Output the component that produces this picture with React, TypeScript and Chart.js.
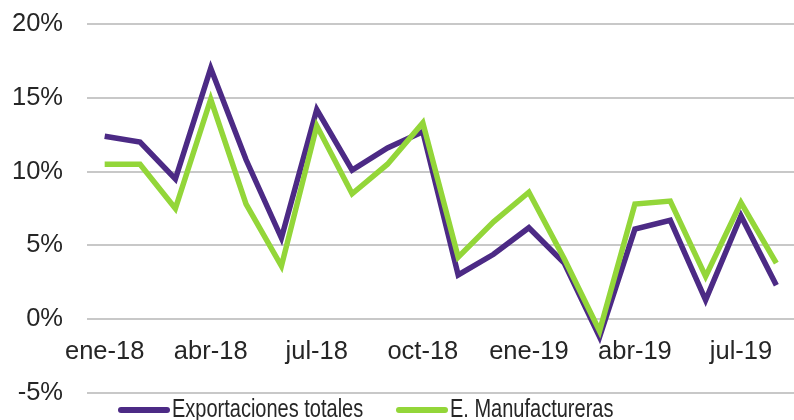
import React, { useEffect, useRef } from "react";
import { Chart, registerables } from "chart.js";

Chart.register(...registerables);

const categories = [
  "ene-18", "feb-18", "mar-18", "abr-18", "may-18", "jun-18", "jul-18", "ago-18", "sep-18", "oct-18",
  "nov-18", "dic-18", "ene-19", "feb-19", "mar-19", "abr-19", "may-19", "jun-19", "jul-19", "ago-19",
];

const exportacionesTotales = [
  12.4, 12.0, 9.5, 17.0, 10.8, 5.5, 14.2, 10.1, 11.6, 12.7,
  3.0, 4.4, 6.2, 3.8, -1.2, 6.1, 6.7, 1.3, 7.0, 2.3,
];

const manufactureras = [
  10.5, 10.5, 7.5, 14.9, 7.8, 3.6, 13.1, 8.5, 10.5, 13.3,
  4.2, 6.6, 8.6, 4.1, -0.8, 7.8, 8.0, 2.9, 7.9, 3.8,
];

const yTicks = [-5, 0, 5, 10, 15, 20];

const seriesNames = ["Exportaciones totales", "E. Manufactureras"];
const PURPLE = "#4C2A85";
const GREEN = "#93D639";
const FONT = "'Liberation Sans', Arial, sans-serif";

const legendPlugin = {
  id: "customLegend",
  afterDraw(chart: any) {
    const ctx = chart.ctx;
    const items = [
      { label: seriesNames[0], color: PURPLE, x: 121 },
      { label: seriesNames[1], color: GREEN, x: 399 },
    ];
    ctx.save();
    items.forEach((it) => {
      ctx.beginPath();
      ctx.strokeStyle = it.color;
      ctx.lineWidth = 6;
      ctx.lineCap = "round";
      ctx.moveTo(it.x, 410);
      ctx.lineTo(it.x + 46, 410);
      ctx.stroke();
      ctx.save();
      ctx.translate(it.x + 51, 417);
      ctx.scale(0.8, 1);
      ctx.fillStyle = "#262626";
      ctx.font = `25px ${FONT}`;
      ctx.textBaseline = "alphabetic";
      ctx.textAlign = "left";
      ctx.fillText(it.label, 0, 0);
      ctx.restore();
    });
    ctx.restore();
  },
};

export default function App() {
  const ref = useRef<HTMLCanvasElement>(null);

  useEffect(() => {
    if (!ref.current) return;
    const chart = new Chart(ref.current, {
      type: "line",
      data: {
        labels: categories,
        datasets: [
          {
            label: seriesNames[0],
            data: exportacionesTotales,
            borderColor: PURPLE,
            backgroundColor: PURPLE,
            borderWidth: 5.5,
            pointRadius: 0,
            tension: 0,
            order: 2,
          },
          {
            label: seriesNames[1],
            data: manufactureras,
            borderColor: GREEN,
            backgroundColor: GREEN,
            borderWidth: 5.5,
            pointRadius: 0,
            tension: 0,
            order: 1,
          },
        ],
      },
      options: {
        animation: false,
        responsive: false,
        layout: { padding: { left: 0, right: 0, top: 24, bottom: 27 } },
        plugins: {
          legend: { display: false },
          tooltip: { enabled: false },
        },
        scales: {
          x: {
            type: "category",
            position: { y: 0 } as any,
            offset: true,
            grid: { display: false, drawTicks: false },
            border: { display: false },
            ticks: {
              autoSkip: false,
              maxRotation: 0,
              padding: 17,
              color: "#262626",
              font: { family: FONT, size: 25.5 },
              callback: (_v: any, i: number) => (i % 3 === 0 ? categories[i] : ""),
            },
            afterFit: (scale: any) => {
              scale.paddingLeft = 0;
              scale.paddingRight = 0;
            },
          },
          y: {
            min: yTicks[0],
            max: yTicks[yTicks.length - 1],
            afterFit: (scale: any) => {
              scale.width = 87;
              scale.paddingTop = 0;
              scale.paddingBottom = 0;
            },
            afterBuildTicks: (scale: any) => {
              scale.ticks = yTicks.map((v) => ({ value: v }));
            },
            grid: { color: "#C8C8C8", lineWidth: 2, drawTicks: false },
            border: { display: false },
            ticks: {
              padding: 24,
              color: "#262626",
              font: { family: FONT, size: 25.5 },
              callback: (v: any) => `${v}%`,
            },
          },
        },
      },
      plugins: [legendPlugin],
    });
    return () => chart.destroy();
  }, []);

  return (
    <div style={{ position: "fixed", left: 0, top: 0, width: 794, height: 420, overflow: "hidden", background: "#fff" }}>
      <canvas ref={ref} width={794} height={420} />
    </div>
  );
}
